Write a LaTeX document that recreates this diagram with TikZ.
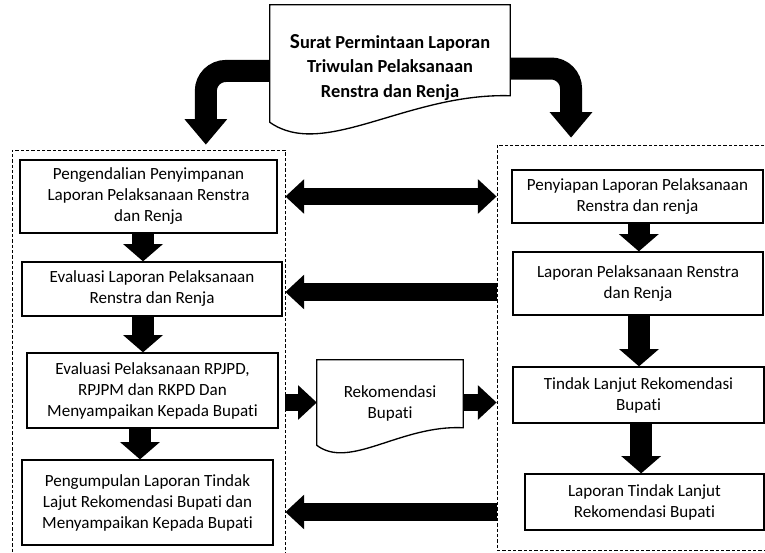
\documentclass[tikz,border=0pt]{standalone}
\usepackage{fontspec}
\setmainfont[Ligatures=NoCommon]{Carlito}
\usetikzlibrary{arrows.meta}

\tikzset{
	kotak/.style={draw, line width=1pt, align=center, inner sep=0pt, font=\fontsize{12.8}{15.75}\selectfont},
	wadah/.style={draw, line width=0.7pt, dash pattern=on 2.5pt off 1.5pt, inner sep=0pt},
	dok/.style={draw, line width=1pt, fill=white},
	panahv/.style={line width=16.5pt, -{Triangle[length=13pt,width=30pt,line width=0pt]}},
	panahh/.style={line width=13pt, -{Triangle[length=14pt,width=26pt,line width=0pt]}},
	panahdua/.style={line width=13pt, {Triangle[length=14pt,width=26pt,line width=0pt]}-{Triangle[length=14pt,width=26pt,line width=0pt]}},
	panahlengkung/.style={line width=16.5pt, rounded corners=15pt, -{Triangle[length=19pt,width=32pt,line width=0pt]}},
}

\begin{document}
\begin{tikzpicture}[x=0.75pt,y=-0.75pt]
	\useasboundingbox (0,0) rectangle (765,553);
	% wadah bidang kiri dan kanan
	\node[wadah, minimum width=204.75pt, minimum height=307.5pt] (kiri) at (148.5,355) {};
	\node[wadah, minimum width=212.25pt, minimum height=303.75pt] (kanan) at (638.5,347.5) {};

	% surat permintaan
	\node[minimum width=180pt, minimum height=87.75pt, inner sep=0pt] (surat) at (390,63.5) {};
	\draw[dok] (surat.north west) -- (surat.north east) -- ++(0,91)
		.. controls +(-103,-3) and +(54,38) .. (surat.south west) -- cycle;
	\node[align=center, font=\bfseries\fontsize{13.8}{18.5}\selectfont] at ([yshift=-3pt]surat) {{\fontsize{16}{16}\selectfont S}urat Permintaan Laporan\\Triwulan Pelaksanaan\\Renstra dan Renja};

	% kotak kiri
	\node[kotak, minimum width=192.75pt, minimum height=54.75pt] (L1) at (148.5,196.5) {Pengendalian Penyimpanan\\Laporan Pelaksanaan Renstra\\dan Renja};
	\node[kotak, minimum width=195pt, minimum height=40.5pt] (L2) at (152,289) {Evaluasi Laporan Pelaksanaan\\Renstra dan Renja};
	\node[kotak, minimum width=188.25pt, minimum height=56.25pt] (L3) at (152.5,390.5) {Evaluasi Pelaksanaan RPJPD,\\RPJPM dan RKPD Dan\\Menyampaikan Kepada Bupati};
	\node[kotak, minimum width=188.25pt, minimum height=63.75pt] (L4) at (147.5,502.5) {Pengumpulan Laporan Tindak\\Lajut Rekomendasi Bupati dan\\Menyampaikan Kepada Bupati};

	% kotak kanan
	\node[kotak, minimum width=188.25pt, minimum height=39.75pt] (R1) at (637.5,196.5) {Penyiapan Laporan Pelaksanaan\\Renstra dan renja};
	\node[kotak, minimum width=187.5pt, minimum height=47.25pt] (R2) at (638,283.5) {Laporan Pelaksanaan Renstra\\dan Renja};
	\node[kotak, minimum width=188.25pt, minimum height=42pt] (R3) at (638.5,395) {Tindak Lanjut Rekomendasi\\Bupati};
	\node[kotak, minimum width=179.25pt, minimum height=42pt] (R4) at (644.5,502) {Laporan Tindak Lanjut\\Rekomendasi Bupati};

	% rekomendasi bupati
	\node[minimum width=109.5pt, minimum height=63.75pt, inner sep=0pt] (rek) at (390,402.5) {};
	\draw[dok] (rek.north west) -- (rek.north east) -- ++(0,68)
		.. controls +(-63,-3) and +(33,25) .. (rek.south west) -- cycle;
	\node[align=center, font=\fontsize{12.8}{15.75}\selectfont] at ([yshift=-0.5pt]rek) {Rekomendasi\\Bupati};

	% panah lengkung dari surat
	\draw[panahlengkung] ([yshift=-5.6pt]surat.west) -| ([xshift=43pt,yshift=3.75pt]kiri.north);
	\draw[panahlengkung] ([yshift=-3.75pt]surat.east) -| ([xshift=-50.6pt,yshift=5.25pt]kanan.north);

	% panah turun
	\coordinate (v1) at ([xshift=-4.1pt]L1.south);
	\coordinate (v2) at ([xshift=-6.75pt]L2.south);
	\coordinate (v3) at ([xshift=-9.4pt]L3.south);
	\coordinate (v4) at ([xshift=1pt]R1.south);
	\coordinate (v5) at ([xshift=0.75pt]R2.south);
	\coordinate (v6) at ([xshift=2pt]R3.south);
	\draw[panahv] (v1) -- (v1 |- L2.north);
	\draw[panahv] (v2) -- (v2 |- L3.north);
	\draw[panahv] (v3) -- (v3 |- L4.north);
	\draw[panahv] (v4) -- (v4 |- R2.north);
	\draw[panahv] (v5) -- (v5 |- R3.north);
	\draw[panahv] (v6) -- (v6 |- R4.north);

	% panah mendatar
	\coordinate (h2) at ([yshift=-2.25pt]L2.east);
	\coordinate (h3) at ([yshift=-7.5pt]R4.west);
	\draw[panahdua] (kiri.east |- R1) -- (kanan.west |- R1);
	\draw[panahh] (kanan.west |- h2) -- (kiri.east |- h2);
	\draw[panahh] (kanan.west |- h3) -- (kiri.east |- h3);
	\draw[panahh] (kiri.east |- rek) -- (rek.west);
	\draw[panahh] (rek.east) -- (kanan.west |- rek);
\end{tikzpicture}
\end{document}
